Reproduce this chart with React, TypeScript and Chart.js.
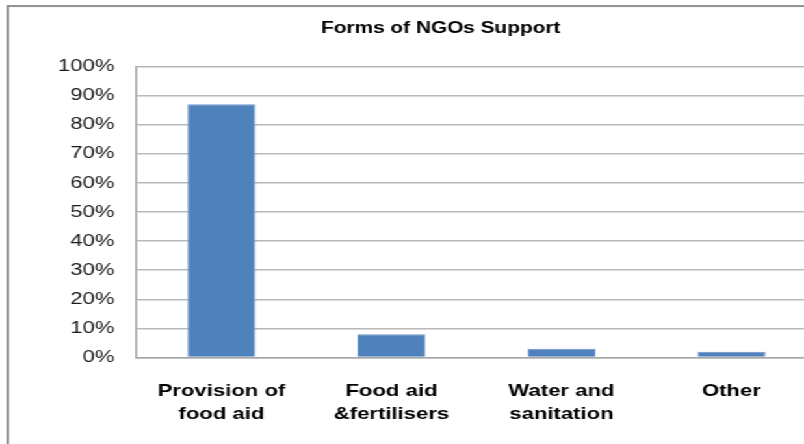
import React, { useEffect, useRef } from "react";
import { Chart, registerables } from "chart.js";

Chart.register(...registerables);

// Chart content
const chartTitle = "Forms of NGOs Support";
const categories: string[][] = [
  ["Provision of", "food aid"],
  ["Food aid", "&fertilisers"],
  ["Water and", "sanitation"],
  ["Other"],
];
const shares: number[] = [87, 8, 3, 2];
const yMin = 0;
const yMax = 100;
const yStep = 10;

const FONT = '"Liberation Sans", Arial, sans-serif';
// The chart is drawn narrow and widened horizontally, giving the wide lettering.
const STRETCH = 1.3;

export default function App() {
  const canvasRef = useRef<HTMLCanvasElement>(null);

  useEffect(() => {
    const canvas = canvasRef.current;
    if (!canvas) return;
    const chart = new Chart(canvas, {
      type: "bar",
      data: {
        labels: categories,
        datasets: [
          {
            data: shares,
            backgroundColor: "#4f81bd",
            borderColor: "#6b96ca",
            borderWidth: 1,
            barPercentage: 0.4,
            categoryPercentage: 1,
            yAxisID: "y",
          },
        ],
      },
      options: {
        animation: false,
        responsive: false,
        devicePixelRatio: 1,
        layout: { padding: { left: 0, right: 0, top: 0, bottom: 4 } },
        plugins: {
          legend: { display: false },
          tooltip: { enabled: false },
          title: {
            display: true,
            text: chartTitle,
            color: "#000",
            font: { family: FONT, size: 16, weight: "bold" },
            padding: { top: 11.5, bottom: 28.7 },
          },
        },
        scales: {
          x: {
            grid: { display: false, drawTicks: false },
            border: { display: true, color: "#a8a8a8", width: 1.5 },
            ticks: {
              color: "#000",
              padding: 22,
              maxRotation: 0,
              autoSkip: false,
              font: { family: FONT, size: 17, weight: "bold", lineHeight: 1.35 },
            },
            afterFit: (scale: any) => {
              scale.height = 82.5;
            },
          },
          y: {
            position: "left",
            min: yMin,
            max: yMax,
            ticks: {
              stepSize: yStep,
              color: "#1a1a1a",
              padding: 17,
              font: { family: FONT, size: 17 },
              callback: (v: any) => `${v}%`,
            },
            grid: { color: "#b8b8b8", lineWidth: 1.5, drawTicks: false },
            border: { display: true, color: "#a8a8a8", width: 1.5 },
            afterFit: (scale: any) => {
              scale.width = 98;
            },
          },
          // empty right-hand gutter so the plot stops short of the frame
          gutter: {
            type: "linear",
            position: "right",
            display: true,
            min: yMin,
            max: yMax,
            grid: { display: false, drawTicks: false, drawOnChartArea: false },
            border: { display: false },
            ticks: { display: false },
            afterFit: (scale: any) => {
              scale.width = 43;
            },
          },
        },
      },
    });
    return () => chart.destroy();
  }, []);

  return (
    <div
      style={{
        position: "fixed",
        left: 0,
        top: 0,
        width: 804,
        height: 444,
        overflow: "hidden",
        background: "#fff",
      }}
    >
      <div
        style={{
          position: "absolute",
          left: 0,
          top: 0,
          width: 700,
          height: 480,
          transform: `scaleX(${STRETCH})`,
          transformOrigin: "0 0",
        }}
      >
        <div
          style={{
            position: "absolute",
            left: 4.8,
            top: 5,
            width: 680,
            height: 470,
            border: "2px solid #8f8f8f",
            boxSizing: "border-box",
          }}
        />
        <canvas
          ref={canvasRef}
          width={664}
          height={437}
          style={{ position: "absolute", left: 7, top: 7 }}
        />
      </div>
    </div>
  );
}
